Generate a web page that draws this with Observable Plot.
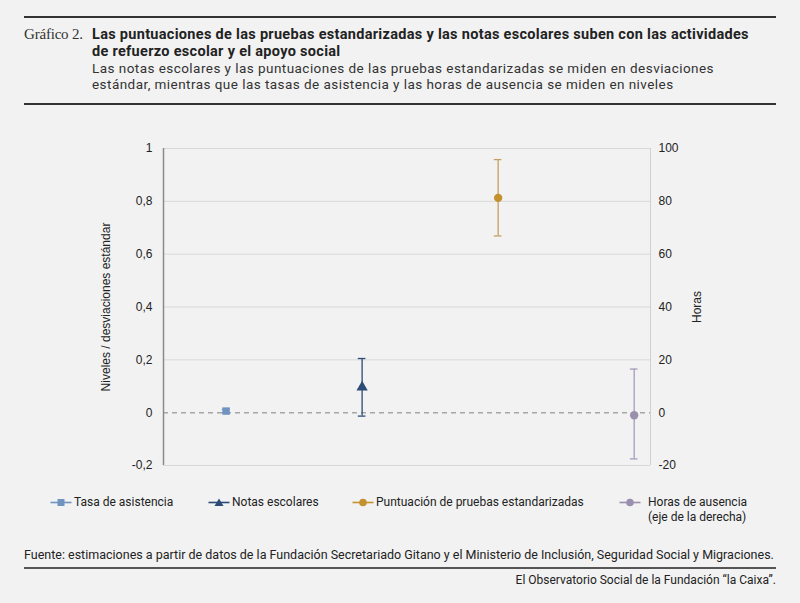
<!DOCTYPE html>
<html>
<head>
<meta charset="utf-8">
<script src="https://cdn.jsdelivr.net/npm/d3@7"></script>
<script src="https://cdn.jsdelivr.net/npm/@observablehq/plot@0.6"></script>
<style>
  html, body { margin: 0; padding: 0; background: #f2f2f2; }
  #page { position: relative; width: 800px; height: 603px; background: #f2f2f2; overflow: hidden; color: #222; }
  .rule { position: absolute; left: 24px; width: 752px; height: 2px; background: #333; }
  .abs { position: absolute; white-space: nowrap; }
  #num { left: 24px; top: 25.7px; font-family: "Liberation Serif", "DejaVu Serif", serif; font-size: 15px; line-height: 17px; color: #333; letter-spacing: -0.2px; }
  #title { left: 92px; top: 25.9px; font-family: Roboto, sans-serif; font-weight: 700; font-size: 14.5px; line-height: 17px; color: #222; letter-spacing: 0.3px; }
  #subtitle { left: 92px; top: 60.8px; font-family: Roboto, sans-serif; font-size: 13.5px; line-height: 15.8px; color: #333; letter-spacing: 0.45px; }
  #chart { position: absolute; left: 0; top: 130px; }
  .leg { position: absolute; top: 495px; font-family: Roboto, sans-serif; font-size: 12px; line-height: 15px; color: #222; }
  .leg svg { position: absolute; left: 0; top: 2px; }
  .leg span { position: absolute; white-space: nowrap; }
  #source { left: 24px; top: 547px; font-family: Roboto, sans-serif; font-size: 12.5px; line-height: 15px; color: #222; }
  #footer { right: 24px; top: 573px; font-family: Roboto, sans-serif; font-size: 12px; line-height: 15px; color: #222; }
</style>
</head>
<body>
<div id="page">
  <div class="rule" style="top:16px"></div>
  <div class="abs" id="num">Gráfico 2.</div>
  <div class="abs" id="title">Las puntuaciones de las pruebas estandarizadas y las notas escolares suben con las actividades<br>de refuerzo escolar y el apoyo social</div>
  <div class="abs" id="subtitle">Las notas escolares y las puntuaciones de las pruebas estandarizadas se miden en desviaciones<br>estándar, mientras que las tasas de asistencia y las horas de ausencia se miden en niveles</div>
  <div class="rule" style="top:103px"></div>
  <div id="chart"></div>
  <div id="legend"></div>
  <div class="abs" id="source">Fuente: estimaciones a partir de datos de la Fundación Secretariado Gitano y el Ministerio de Inclusión, Seguridad Social y Migraciones.</div>
  <div class="rule" style="top:567px; background:#555"></div>
  <div class="abs" id="footer">El Observatorio Social de la Fundación “la Caixa”.</div>
</div>
<script>
// ---- Data ----
const series = ["Tasa de asistencia", "Notas escolares", "Puntuación de pruebas estandarizadas", "Horas de ausencia"];
const legendLabels = ["Tasa de asistencia", "Notas escolares", "Puntuación de pruebas estandarizadas", "Horas de ausencia<br>(eje de la derecha)"];
const estimates = [0.006, 0.096, 0.813, -1];     // last one in hours (right axis)
const lower     = [0.000, -0.013, 0.669, -17.5];
const upper     = [0.012, 0.205, 0.958, 16.5];
const onRightAxis = [false, false, false, true];
const colors = ["#7093c0", "#2d4b77", "#c3922e", "#9b8fae"];
const barColors = ["#7093c0", "#2d4b77", "#c4a061", "#a79cba"];
const symbols = ["square", "triangle", "circle", "circle"];
const leftTicks = [-0.2, 0, 0.2, 0.4, 0.6, 0.8, 1];
const rightTicks = [-20, 0, 20, 40, 60, 80, 100];
const hoursPerUnit = 100; // right axis: 100 hours = 1 unit on left axis

// ---- Build table ----
const data = series.map((s, i) => {
  const k = onRightAxis[i] ? hoursPerUnit : 1;
  return { series: s, i, v: estimates[i] / k, lo: lower[i] / k, hi: upper[i] / k };
});

const fmtLeft = d => String(Math.round(d * 10) / 10).replace(".", ",");
const capW = 0.028;

const chart = Plot.plot({
  width: 800,
  height: 350,
  marginTop: 18,
  marginBottom: 15,
  marginLeft: 163,
  marginRight: 150,
  x: { domain: [-0.46, 3.12], axis: null },
  y: { domain: [-0.2, 1], axis: null },
  style: { background: "transparent", fontFamily: "'Liberation Sans', Arial, sans-serif", fontSize: "12px", color: "#222" },
  marks: [
    Plot.ruleY(leftTicks.filter(d => d !== 0), { stroke: "#d8d8d8", strokeWidth: 1 }),
    Plot.ruleX([3.12], { stroke: "#d0d0d0", strokeWidth: 1 }),
    Plot.ruleY([0], { stroke: "#a6a6a6", strokeWidth: 1.5, strokeDasharray: "5,4" }),
    Plot.ruleX([-0.46], { stroke: "#8a8a8a", strokeWidth: 1.5 }),
    Plot.axisY(rightTicks.map(d => d / hoursPerUnit), {
      anchor: "right", tickSize: 0, tickPadding: 8,
      tickFormat: d => String(Math.round(d * hoursPerUnit)),
      label: "Horas", labelAnchor: "center", labelOffset: 50, labelArrow: "none"
    }),
    Plot.axisY(leftTicks, {
      anchor: "left", tickSize: 0, tickPadding: 11, tickFormat: fmtLeft,
      label: "Niveles / desviaciones estándar", labelAnchor: "center", labelOffset: 62, labelArrow: "none"
    }),
    Plot.ruleX(data, { x: "i", y1: "lo", y2: "hi", stroke: d => barColors[d.i], strokeWidth: 1.3 }),
    Plot.ruleY(data, { y: "lo", x1: d => d.i - capW, x2: d => d.i + capW, stroke: d => barColors[d.i], strokeWidth: 1.3 }),
    Plot.ruleY(data, { y: "hi", x1: d => d.i - capW, x2: d => d.i + capW, stroke: d => barColors[d.i], strokeWidth: 1.3 }),
    Plot.dot(data, { x: "i", y: "v", symbol: d => symbols[d.i], fill: d => colors[d.i], r: 4.2, stroke: "none" })
  ]
});
document.getElementById("chart").appendChild(chart);

// ---- Legend ----
const legendX = [50, 208, 352, 619];
const legend = document.getElementById("legend");
const symPath = {
  square: '<rect x="7" y="2" width="7" height="7"/>',
  triangle: '<path d="M10.5,1.5 L15,9 L6,9 Z"/>',
  circle: '<circle cx="10.5" cy="5.5" r="3.8"/>'
};
series.forEach((s, i) => {
  const div = document.createElement("div");
  div.className = "leg";
  div.style.left = legendX[i] + "px";
  div.innerHTML =
    `<svg width="22" height="11" viewBox="0 0 21 11"><line x1="0" x2="21" y1="5.5" y2="5.5" stroke="${colors[i]}" stroke-width="1.6"/><g fill="${colors[i]}">${symPath[symbols[i]]}</g></svg>` +
    `<span style="left:${i === 3 ? 29 : 24}px;top:0">${legendLabels[i]}</span>`;
  legend.appendChild(div);
});
</script>
</body>
</html>
